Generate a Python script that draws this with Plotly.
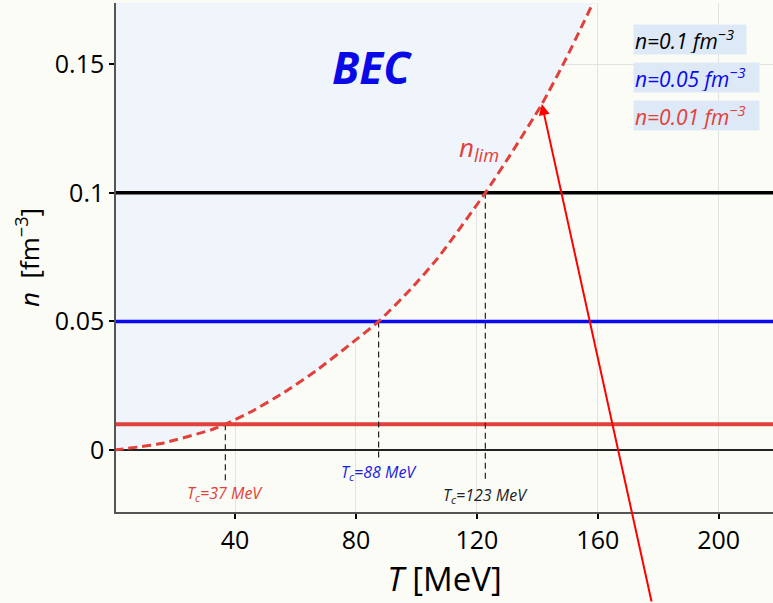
import plotly.graph_objects as go

# ---- data ----
T_curve = [0, 15, 32, 36.8, 45, 56, 67, 78, 87.5, 98, 107, 122.8, 132, 141.5, 149, 158.5]
n_curve = [0, 0.0024, 0.0078, 0.01, 0.0147, 0.0222, 0.031, 0.041, 0.05, 0.0624, 0.0745, 0.1, 0.1165, 0.1345, 0.151, 0.174]

n_levels = [0.1, 0.05, 0.01]
level_colors = ["#000000", "#0a0aee", "#e2403a"]
level_widths = [3.5, 3.5, 4]
level_labels = ["<i>n=0.1 fm<sup>−3</sup></i>", "<i>n=0.05 fm<sup>−3</sup></i>", "<i>n=0.01 fm<sup>−3</sup></i>"]

Tc_vals = [36.8, 87.5, 122.8]
Tc_n = [0.01, 0.05, 0.1]
Tc_drop = [-0.0123, -0.0032, -0.0123]
Tc_text = ["<i>T<sub>c</sub>=37 MeV</i>", "<i>T<sub>c</sub>=88 MeV</i>", "<i>T<sub>c</sub>=123 MeV</i>"]
Tc_label_y = [-0.0168, -0.0086, -0.0175]
Tc_colors = ["#e2403a", "#1a1ae0", "#222222"]

x_ticks = [40, 80, 120, 160, 200]
y_ticks = [0, 0.05, 0.1, 0.15]
y_ticktext = ["0", "0.05", "0.1", "0.15"]

x_range = [0.63, 217.96]
y_range = [-0.0241, 0.1738]

BG = "#fcfcf7"
FILL = "#eff5fa"
CURVE = "#e2403a"

fig = go.Figure()

# BEC region (above the n_lim curve)
fig.add_trace(go.Scatter(
    x=T_curve + [T_curve[-1], T_curve[0]],
    y=n_curve + [y_range[1] + 0.05, y_range[1] + 0.05],
    fill="toself", fillcolor=FILL, mode="none", hoverinfo="skip", showlegend=False))

# horizontal density levels
for lv, c, w in zip(n_levels, level_colors, level_widths):
    fig.add_trace(go.Scatter(x=[x_range[0] - 5, x_range[1] + 5], y=[lv, lv], mode="lines",
                             line=dict(color=c, width=w), showlegend=False, hoverinfo="skip"))

# vertical dashed drops
for t, nv, d in zip(Tc_vals, Tc_n, Tc_drop):
    fig.add_trace(go.Scatter(x=[t, t], y=[nv, d], mode="lines",
                             line=dict(color="#222222", width=1.2, dash="6px,4px"),
                             showlegend=False, hoverinfo="skip"))

# n_lim curve
fig.add_trace(go.Scatter(x=T_curve, y=n_curve, mode="lines",
                         line=dict(color=CURVE, width=3, dash="9px,5px", shape="spline", smoothing=0.6),
                         showlegend=False))

annotations = []
annotations.append(dict(x=85.3, y=0.149, text="<b><i>BEC</i></b>", showarrow=False,
                        font=dict(size=44, color="#0a0ae6")))
annotations.append(dict(x=120.8, y=0.1174, text="<i>n<sub>lim</sub></i>", showarrow=False,
                        font=dict(size=26, color=CURVE)))
for t, txt, yy, c in zip(Tc_vals, Tc_text, Tc_label_y, Tc_colors):
    annotations.append(dict(x=t, y=yy, text=txt, showarrow=False, font=dict(size=16, color=c)))

box_y = [0.929, 0.8536, 0.778]
box_w = [110, 123, 123]
for lbl, c, yy, bw in zip(level_labels, level_colors, box_y, box_w):
    annotations.append(dict(xref="paper", yref="paper", x=0.787, y=yy, xanchor="left", yanchor="middle",
                            text=lbl, showarrow=False, align="left", bgcolor="#dde9f6",
                            width=bw, height=27, borderpad=1,
                            font=dict(size=21, color=c)))

# red arrow
annotations.append(dict(x=141.5, y=0.1345, text="", showarrow=True, ax=110, ay=515,
                        arrowhead=2, arrowsize=1.1, arrowwidth=2, arrowcolor="#ff0000", standoff=0))

fig.update_layout(
    width=773, height=603,
    margin=dict(l=116, r=0, t=3, b=91),
    paper_bgcolor=BG, plot_bgcolor=BG,
    font=dict(family="Open Sans", color="#000000"),
    annotations=annotations,
    showlegend=False,
    xaxis=dict(range=x_range, tickvals=x_ticks, ticks="outside", ticklen=5, tickwidth=2, tickcolor="#000",
               tickfont=dict(size=25, color="#000"), showgrid=True, gridcolor="#e2e2e2", gridwidth=1,
               zeroline=False, showline=True, linecolor="#555555", linewidth=1.5,
               title=dict(text="<i>T</i> [MeV]", font=dict(size=33), standoff=12)),
    yaxis=dict(range=y_range, tickvals=y_ticks, ticktext=y_ticktext, ticks="outside", ticklen=5, tickwidth=2,
               tickcolor="#000", tickfont=dict(size=25, color="#000"), showgrid=True, gridcolor="#e2e2e2",
               gridwidth=1, zeroline=True, zerolinecolor="#222222", zerolinewidth=1.5,
               showline=True, linecolor="#555555", linewidth=1.5,
               title=dict(text="<i>n</i>  [fm<sup>−3</sup>]", font=dict(size=26), standoff=8)),
)

fig.write_html("out.html")
